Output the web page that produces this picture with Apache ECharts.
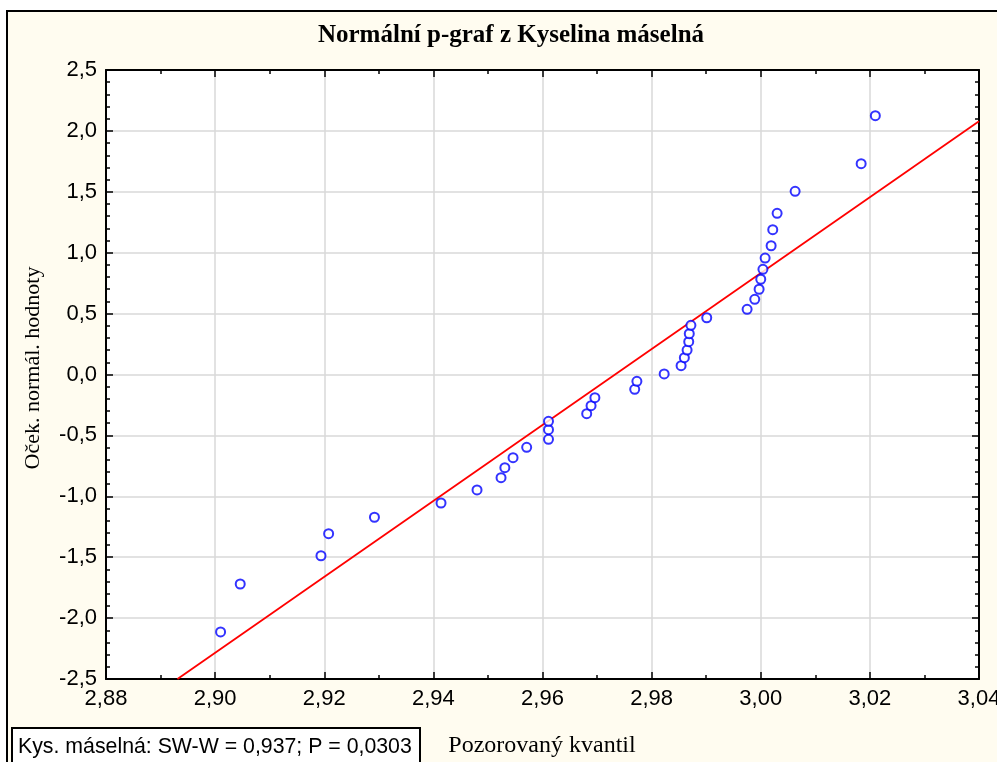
<!DOCTYPE html>
<html>
<head>
<meta charset="utf-8">
<style>
html,body{margin:0;padding:0;background:#ffffff;}
#chart{width:997px;height:762px;}
</style>
<script src="https://cdn.jsdelivr.net/npm/echarts@6/dist/echarts.min.js"></script>
</head>
<body>
<div id="chart"></div>
<script>
var observedQuantile = [
  2.9010, 2.9046, 2.9194, 2.9208, 2.9292, 2.9414, 2.9480, 2.9524, 2.9531, 2.9546,
  2.9571, 2.9611, 2.9611, 2.9611, 2.9681, 2.9689, 2.9696, 2.9769, 2.9773, 2.9823,
  2.9854, 2.9860, 2.9865, 2.9868, 2.9869, 2.9872, 2.9901, 2.9975, 2.9989, 2.9997,
  3.0000, 3.0004, 3.0008, 3.0019, 3.0022, 3.0030, 3.0063, 3.0184, 3.0210
];
var expectedNormal = [
  -2.114, -1.720, -1.488, -1.307, -1.172, -1.055, -0.948, -0.847, -0.765, -0.683,
  -0.598, -0.532, -0.453, -0.384, -0.322, -0.256, -0.190, -0.122, -0.056, 0.005,
  0.072, 0.138, 0.201, 0.269, 0.335, 0.404, 0.466, 0.535, 0.617, 0.700,
  0.782, 0.864, 0.956, 1.057, 1.189, 1.323, 1.504, 1.731, 2.125
];
// Fitted reference line end points
var fitLineX = [2.8931, 3.04];
var fitLineY = [-2.5, 2.08];

var titleText = 'Normální p-graf z Kyselina máselná';
var xAxisName = 'Pozorovaný kvantil';
var yAxisName = 'Oček. normál. hodnoty';
var statsText = 'Kys. máselná: SW-W = 0,937; P = 0,0303';

var points = observedQuantile.map(function (x, i) { return [x, expectedNormal[i]]; });
var fitLine = fitLineX.map(function (x, i) { return [x, fitLineY[i]]; });

var chart = echarts.init(document.getElementById('chart'), null, {renderer: 'canvas'});

function fmtX(v) { return v.toFixed(2).replace('.', ','); }
function fmtY(v) { return (Math.abs(v) < 1e-9 ? 0 : v).toFixed(1).replace('.', ','); }

var axisCommonX = {
  type: 'value', min: 2.88, max: 3.04, interval: 0.02, z: 2,
  axisLine: {show: true, onZero: false, lineStyle: {color: '#000', width: 2}},
  axisTick: {show: true, inside: true, length: 7, lineStyle: {color: '#000', width: 1.5}},
  minorTick: {show: true, splitNumber: 2, length: 4, lineStyle: {color: '#000', width: 1.5}}
};
var axisCommonY = {
  type: 'value', min: -2.5, max: 2.5, interval: 0.5, z: 2,
  axisLine: {show: true, onZero: false, lineStyle: {color: '#000', width: 2}},
  axisTick: {show: true, inside: true, length: 7, lineStyle: {color: '#000', width: 1.5}},
  minorTick: {show: true, splitNumber: 5, length: 4, lineStyle: {color: '#000', width: 1.5}}
};

var option = {
  animation: false,
  backgroundColor: '#ffffff',
  grid: {left: 106, right: 18, top: 70, bottom: 83, show: true, backgroundColor: '#ffffff', borderWidth: 0, z: 1,
    containLabel: false, outerBoundsMode: 'none'},
  xAxis: [
    Object.assign({}, axisCommonX, {
      position: 'bottom',
      axisLabel: {show: true, margin: 9, color: '#000', fontFamily: 'Liberation Sans', fontSize: 22, formatter: fmtX},
      splitLine: {show: true, lineStyle: {color: '#d9d9d9', width: 1.5}}
    }),
    Object.assign({}, axisCommonX, {
      position: 'top',
      axisLabel: {show: false},
      splitLine: {show: false}
    })
  ],
  yAxis: [
    Object.assign({}, axisCommonY, {
      position: 'left',
      axisLabel: {show: true, margin: 9, color: '#000', fontFamily: 'Liberation Sans', fontSize: 22, formatter: fmtY},
      splitLine: {show: true, lineStyle: {color: '#d9d9d9', width: 1.5}}
    }),
    Object.assign({}, axisCommonY, {
      position: 'right',
      axisLabel: {show: false},
      splitLine: {show: false}
    })
  ],
  series: [
    {
      type: 'line', data: fitLine, xAxisIndex: 0, yAxisIndex: 0,
      showSymbol: false, symbol: 'none',
      lineStyle: {color: '#ff0000', width: 1.8}, z: 3, silent: true
    },
    {
      type: 'scatter', data: points, xAxisIndex: 0, yAxisIndex: 0,
      symbol: 'emptyCircle', symbolSize: 9,
      itemStyle: {color: '#0000ff', borderColor: '#0000ff', borderWidth: 2}, z: 4
    }
  ],
  graphic: [
    {type: 'rect', z: -10, shape: {x: 7, y: 11, width: 1000, height: 760},
      style: {fill: '#fffcf0', stroke: '#000', lineWidth: 2}},
    {type: 'text', z: 10, x: 511, y: 36,
      style: {text: titleText, fill: '#000', font: 'bold 25px "Liberation Serif"', textAlign: 'center', textVerticalAlign: 'middle'}},
    {type: 'rect', z: 10, shape: {x: 12, y: 728, width: 408, height: 45},
      style: {fill: '#ffffff', stroke: '#000', lineWidth: 2}},
    {type: 'text', z: 11, x: 18, y: 747,
      style: {text: statsText, fill: '#000', font: '21.3px "Liberation Sans"', textAlign: 'left', textVerticalAlign: 'middle'}},
    {type: 'text', z: 10, x: 542, y: 746,
      style: {text: xAxisName, fill: '#000', font: '24px "Liberation Serif"', textAlign: 'center', textVerticalAlign: 'middle'}},
    {type: 'text', z: 10, x: 33, y: 368, rotation: Math.PI / 2,
      style: {text: yAxisName, fill: '#000', font: '22px "Liberation Serif"', textAlign: 'center', textVerticalAlign: 'middle'}}
  ]
};
chart.setOption(option);
</script>
</body>
</html>
